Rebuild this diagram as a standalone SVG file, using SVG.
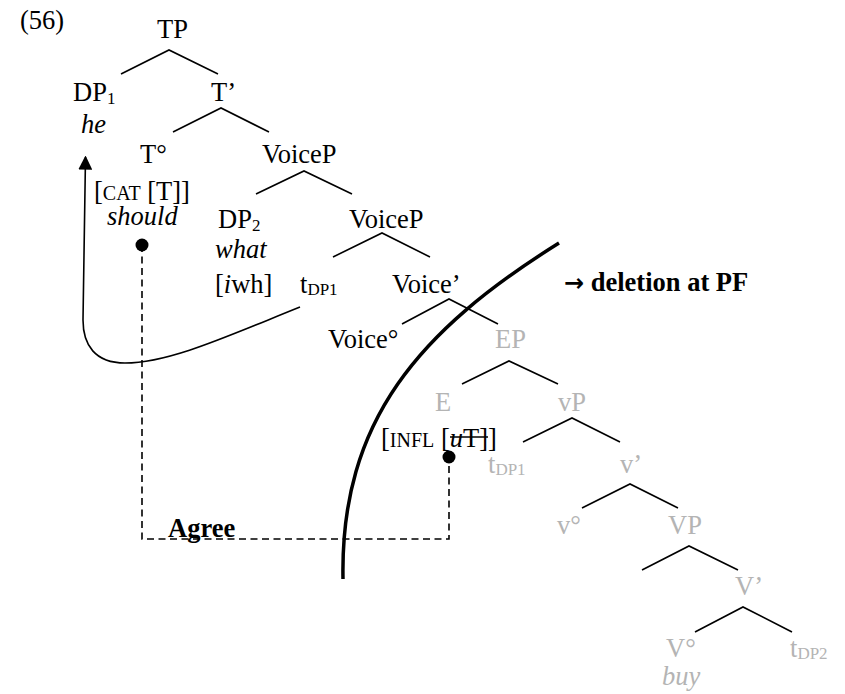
<svg xmlns="http://www.w3.org/2000/svg" width="845" height="694" viewBox="0 0 845 694">
<defs>
<style>
text{font-family:"Liberation Serif","Times New Roman",serif;font-size:26.5px;fill:#000}
.g{fill:#b4b4b4}
.i{font-style:italic}
.b{font-weight:bold}
.sub{font-size:17px}
.sc{font-size:20px}
.arr{font-family:"DejaVu Sans",sans-serif;font-weight:bold;font-size:24px}
.br{fill:none;stroke:#000;stroke-width:1.6}
.dash{fill:none;stroke:#000;stroke-width:1.6;stroke-dasharray:7 4.5}
</style>
<marker id="ah" viewBox="0 0 10 10" refX="9" refY="5" markerWidth="14" markerHeight="14" markerUnits="userSpaceOnUse" orient="auto">
<path d="M0,0 L10,5 L0,10 z" fill="#000"/>
</marker>
</defs>
<rect width="845" height="694" fill="#fff"/>
<text x="20" y="29">(56)</text>
<g id="connectors">
<polyline class="br" points="121,74 169,50 218,74"/>
<polyline class="br" points="173,132 221,108 269,132"/>
<polyline class="br" points="256,194 304,171 352,194"/>
<polyline class="br" points="333,257 382,233 430,257"/>
<polyline class="br" points="402,324 449,299 498,324"/>
<polyline class="br" points="462,384 509,361 558,384"/>
<polyline class="br" points="523,442 572,418 620,442"/>
<polyline class="br" points="582,508 630,484 678,508"/>
<polyline class="br" points="642,570 689,546 738,570"/>
<polyline class="br" points="695,632 743,607 792,632"/>
<path class="br" d="M300,307 C230,335 170,363 125,363 C95,363 83,345 83,320 L85.5,157" marker-end="url(#ah)"/>
<polyline class="dash" points="142,245 142,539 449,539 449,457"/>
<circle cx="142" cy="245" r="6.5" fill="#000"/>
<circle cx="449" cy="457" r="6.5" fill="#000"/>
<path d="M559,243 C420,330 340,420 343,579" fill="none" stroke="#000" stroke-width="3.5"/>
</g>
<g id="TP"><text x="157" y="38">TP</text></g>
<g id="DP1"><text x="73" y="101">DP<tspan class="sub" dy="3">1</tspan></text><text class="i" x="81" y="133">he</text></g>
<g id="Tbar"><text x="211" y="101">T’</text></g>
<g id="T0"><text x="140" y="163">T°</text><text x="94" y="200">[<tspan class="sc">CAT</tspan> [T]]</text><text class="i" x="107" y="225">should</text></g>
<g id="VoiceP1"><text x="262" y="163">VoiceP</text></g>
<g id="DP2"><text x="218" y="228">DP<tspan class="sub" dy="3">2</tspan></text><text class="i" x="215" y="258">what</text><text x="215" y="293">[<tspan class="i">i</tspan>wh]</text></g>
<g id="VoiceP2"><text x="349" y="228">VoiceP</text></g>
<g id="tDP1a"><text x="300" y="293">t<tspan class="sub" dy="2">DP1</tspan></text></g>
<g id="Voicebar"><text x="392" y="293">Voice’</text></g>
<g id="deletion"><text class="b" x="564" y="291"><tspan class="arr">→</tspan> deletion at PF</text></g>
<g id="Voice0"><text x="328" y="348">Voice°</text></g>
<g id="EP"><text class="g" x="495" y="348">EP</text></g>
<g id="E"><text class="g" x="435" y="411">E</text><text x="381" y="447">[<tspan class="sc">INFL</tspan> [<tspan class="i">u</tspan>T]]</text><line x1="450" y1="437" x2="488" y2="437" stroke="#000" stroke-width="1.5"/></g>
<g id="vP"><text class="g" x="558" y="411">vP</text></g>
<g id="tDP1b"><text class="g" x="488" y="473">t<tspan class="sub" dy="2">DP1</tspan></text></g>
<g id="vbar"><text class="g" x="620" y="473">v’</text></g>
<g id="v0"><text class="g" x="557" y="534">v°</text></g>
<g id="VP"><text class="g" x="668" y="534">VP</text></g>
<g id="Vbar"><text class="g" x="735" y="595">V’</text></g>
<g id="V0"><text class="g" x="666" y="657">V°</text><text class="g i" x="662" y="685">buy</text></g>
<g id="tDP2"><text class="g" x="790" y="657">t<tspan class="sub" dy="2">DP2</tspan></text></g>
<g id="agree"><text class="b" x="168" y="537">Agree</text></g>
</svg>
